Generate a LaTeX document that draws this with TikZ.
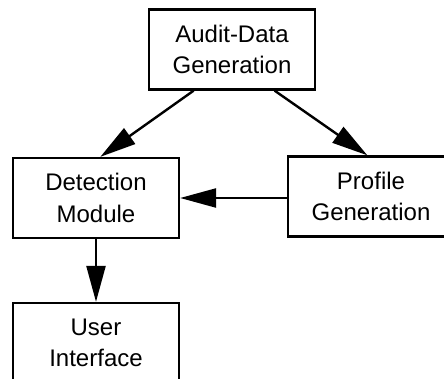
\documentclass[tikz,border=0pt]{standalone}
\usepackage{fontspec}
\setmainfont{Liberation Sans}
\usetikzlibrary{arrows.meta}
\begin{document}
\begin{tikzpicture}[x=1pt,y=1pt,
  block/.style={draw, line width=2.3pt, align=center, inner sep=0pt,
    minimum width=166pt, minimum height=80pt,
    font=\fontsize{24}{31.5}\selectfont},
  flow/.style={line width=2.4pt, -{Triangle[length=36pt,width=19pt]}}]
  \useasboundingbox (0,0) rectangle (444,-379);
  \clip (0,0) rectangle (444,-379);
  \node[block] (audit) at (232,-49.5) {Audit-Data\\Generation};
  \node[block] (detect) at (96,-198) {Detection\\Module};
  \node[block] (profile) at (371,-196.5) {Profile\\Generation};
  \node[block] (user) at (96,-343) {User\\Interface};
  \draw[flow] (audit.227.6) -- (detect.84.7);
  \draw[flow] (audit.316) -- (profile.95.4);
  \draw[flow] (profile.west |- detect.east) -- (detect.east);
  \draw[flow] (detect.south) -- (user.north);
\end{tikzpicture}
\end{document}
